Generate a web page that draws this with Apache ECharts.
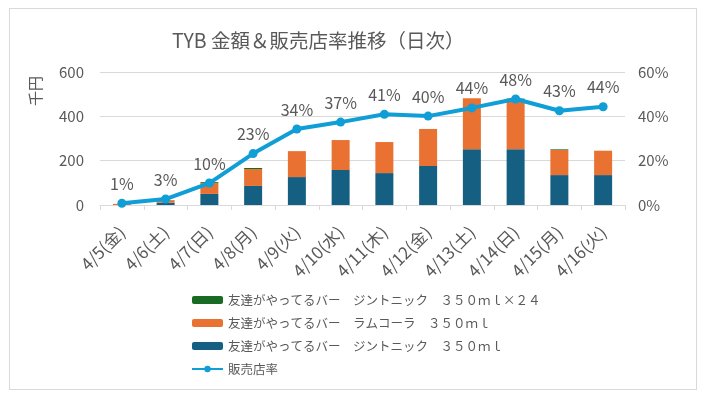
<!DOCTYPE html>
<html>
<head>
<meta charset="utf-8">
<script src="https://cdn.jsdelivr.net/npm/echarts@6/dist/echarts.min.js"></script>
<style>
html,body{margin:0;padding:0;background:#fff;}
#wrap{position:absolute;left:9px;top:8px;width:688px;height:382px;border:1px solid #d9d9d9;box-sizing:border-box;}
#chart{position:absolute;left:0;top:0;width:705px;height:397px;}
</style>
</head>
<body>
<div id="wrap"></div>
<div id="chart"></div>
<script>
const categories = ['4/5(金)','4/6(土)','4/7(日)','4/8(月)','4/9(火)','4/10(水)','4/11(木)','4/12(金)','4/13(土)','4/14(日)','4/15(月)','4/16(火)'];
const seriesNames = [
  '友達がやってるバー　ジントニック　３５０ｍｌ×２４',
  '友達がやってるバー　ラムコーラ　３５０ｍｌ',
  '友達がやってるバー　ジントニック　３５０ｍｌ',
  '販売店率'
];
const ginTonic24 = [0, 0, 5, 5, 0, 0, 0, 0, 0, 4, 3, 0];
const rumCola = [5, 12, 48, 76, 117, 135, 140, 167, 230, 224, 113, 110];
const ginTonic = [0, 10, 50, 86, 126, 158, 144, 176, 252, 252, 135, 135];
const storeRate = [0.8, 2.7, 9.9, 23.2, 34.3, 37.4, 40.9, 40.1, 43.8, 47.8, 42.5, 44.3];
const leftTicks = {min: 0, max: 600, interval: 200};
const rightTicks = {min: 0, max: 60, interval: 20};
const leftUnit = '千円';

const font = '"Noto Sans CJK JP", "Noto Sans", sans-serif';
const txt = '#595959';
const chart = echarts.init(document.getElementById('chart'));
chart.setOption({
  backgroundColor: 'transparent',
  textStyle: {fontFamily: font},
  title: {
    text: 'TYB 金額＆販売店率推移（日次）',
    left: 167, top: 26,
    textStyle: {fontFamily: font, fontSize: 19.5, fontWeight: 'normal', color: txt}
  },
  graphic: [{
    type: 'text',
    left: 28, top: 76,
    rotation: Math.PI / 2,
    style: {text: leftUnit, fontSize: 15, fill: txt, fontFamily: font}
  }],
  legend: {
    data: [seriesNames[0], seriesNames[1], seriesNames[2], seriesNames[3]],
    orient: 'vertical',
    left: 186, top: 287,
    itemWidth: 31, itemHeight: 8, itemGap: 7,
    textStyle: {fontFamily: font, fontSize: 12.5, color: txt, lineHeight: 16}
  },
  grid: {left: 100, right: 80, top: 72, bottom: 192, containLabel: false},
  xAxis: {
    type: 'category',
    data: categories,
    boundaryGap: true,
    axisLine: {lineStyle: {color: '#d9d9d9'}},
    axisTick: {show: true, length: 5, lineStyle: {color: '#d9d9d9'}},
    axisLabel: {rotate: 45, margin: 24, fontSize: 17, color: txt, fontFamily: font}
  },
  yAxis: [{
    type: 'value',
    min: leftTicks.min, max: leftTicks.max, interval: leftTicks.interval,
    axisLine: {show: false}, axisTick: {show: false},
    splitLine: {lineStyle: {color: '#d9d9d9'}},
    axisLabel: {fontSize: 15, color: txt, margin: 16, fontFamily: font}
  }, {
    type: 'value',
    min: rightTicks.min, max: rightTicks.max, interval: rightTicks.interval,
    axisLine: {show: false}, axisTick: {show: false},
    splitLine: {show: false},
    axisLabel: {fontSize: 15, color: txt, margin: 13, fontFamily: font, formatter: '{value}%'}
  }],
  series: [{
    name: seriesNames[2], type: 'bar', stack: 'amt', data: ginTonic,
    barWidth: 18, itemStyle: {color: '#156082'}
  }, {
    name: seriesNames[1], type: 'bar', stack: 'amt', data: rumCola,
    barWidth: 18, itemStyle: {color: '#E97132'}
  }, {
    name: seriesNames[0], type: 'bar', stack: 'amt', data: ginTonic24,
    barWidth: 18, itemStyle: {color: '#196B24'}
  }, {
    name: seriesNames[3], type: 'line', yAxisIndex: 1, data: storeRate,
    symbol: 'circle', symbolSize: 9, smooth: false,
    lineStyle: {color: '#0F9ED5', width: 4},
    itemStyle: {color: '#0F9ED5'},
    label: {show: true, position: 'top', distance: 7, fontSize: 16, color: txt, fontFamily: font,
      formatter: p => Math.round(p.value) + '%'}
  }]
});
</script>
</body>
</html>
